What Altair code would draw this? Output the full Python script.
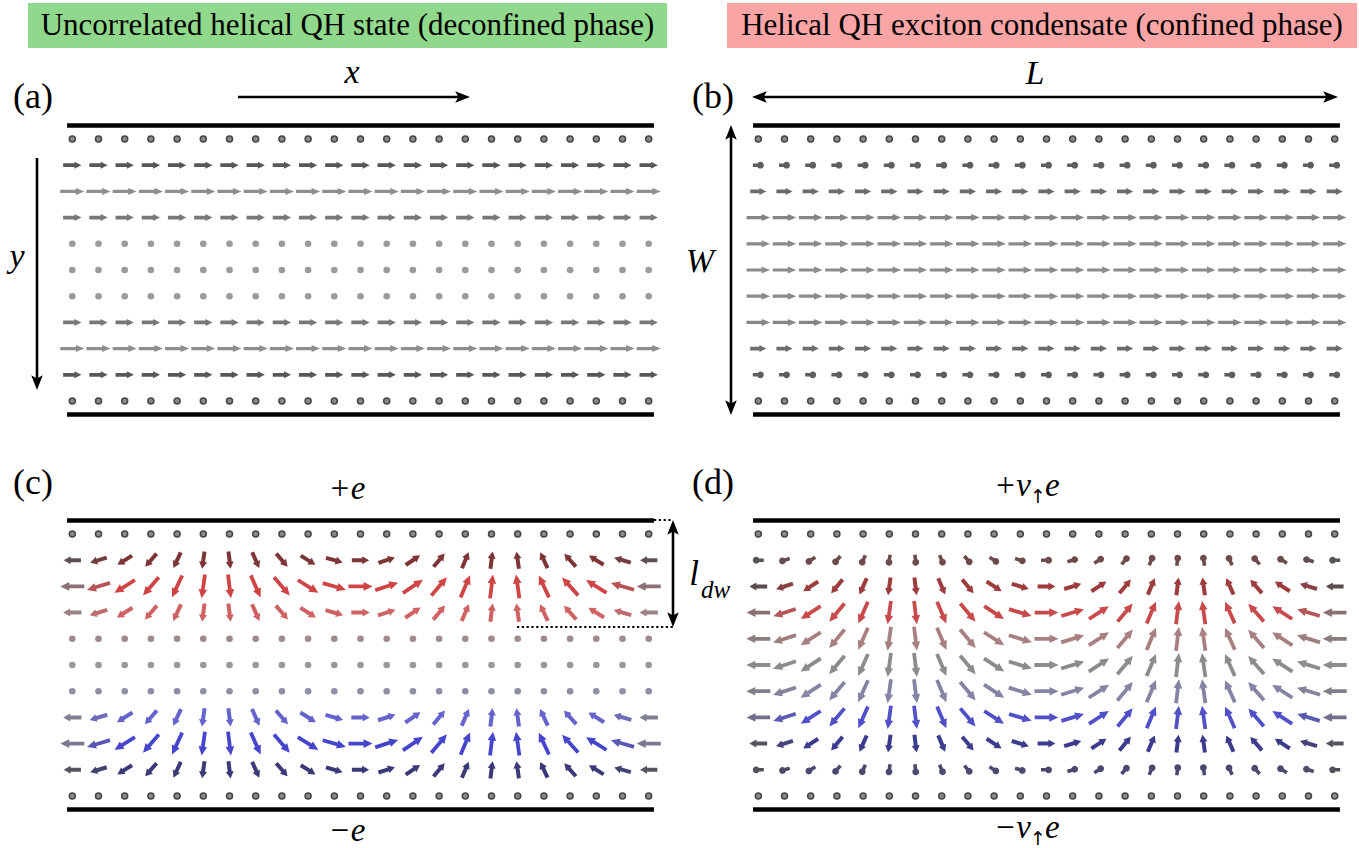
import altair as alt
import pandas as pd

# ------------------------------------------------------------------ data
N_COL = 23
N_ROW = 11

# (a) uncorrelated helical QH state: all in-plane spins along +x
A_ANGLE = [0] * N_COL
A_KIND = ["ring", "arrow", "arrow", "arrow", "dot", "dot", "dot", "arrow", "arrow", "arrow", "ring"]
A_LEN = [0, 0.70, 0.92, 0.70, 0, 0, 0, 0.70, 0.92, 0.70, 0]
A_COLOR = ["#8a8a8a", "#585858", "#8e8e8e", "#787878", "#9b9b9b", "#9b9b9b", "#9b9b9b",
           "#787878", "#8e8e8e", "#585858", "#8a8a8a"]

# (b) helical QH exciton condensate
B_ANGLE = [0] * N_COL
B_KIND = ["ring", "ball", "arrow", "arrow", "arrow", "arrow", "arrow", "arrow", "arrow", "ball", "ring"]
B_LEN = [0, 0.42, 0.62, 0.90, 0.90, 0.90, 0.90, 0.90, 0.62, 0.42, 0]
B_COLOR = ["#8a8a8a", "#5e5e5e", "#6c6c6c", "#858585", "#8a8a8a", "#8c8c8c", "#8a8a8a",
           "#858585", "#6c6c6c", "#5e5e5e", "#8a8a8a"]

# (c) domain walls, deconfined: in-plane angle (deg, counter-clockwise from +x) per column
C_ANGLE = [180, 197, 212, 229, 245, 262, 277, 294, 311, 328, 344, 0,
           18, 34, 50, 67, 83, 98, 115, 132, 148, 164, 180]
C_EDGE = [1.0, 0.35, 0, 0, 0, 0, 0, 0, 0, 0, 0, 0, 0, 0, 0, 0, 0, 0, 0, 0, 0, 0.35, 1.0]
C_KIND = ["ring", "arrow", "arrow", "arrow", "dot", "dot", "dot", "arrow", "arrow", "arrow", "ring"]
C_LEN = [0, 0.66, 0.92, 0.70, 0, 0, 0, 0.70, 0.92, 0.66, 0]
C_COLOR = ["#8a8a8a", "#7d3535", "#cf4444", "#cf6262", "#a08a8a", "#999999", "#8e8ea6",
           "#6464cc", "#4646cc", "#3a3a78", "#8a8a8a"]
C_EDGECOLOR = ["#8a8a8a", "#5e5050", "#8c7272", "#9c8282", "#a08a8a", "#999999", "#8e8ea6",
               "#7e7e94", "#7a7a90", "#555560", "#8a8a8a"]

# (d) domain wall, confined
D_ANGLE = [180, 198, 213, 230, 246, 262, 277, 293, 310, 327, 343, 0,
           17, 33, 50, 67, 83, 98, 114, 131, 147, 163, 180]
D_EDGE = [1.0, 0.35, 0, 0, 0, 0, 0, 0, 0, 0, 0, 0, 0, 0, 0, 0, 0, 0, 0, 0, 0, 0.35, 1.0]
D_KIND = ["ring", "ball", "arrow", "arrow", "arrow", "arrow", "arrow", "arrow", "arrow", "ball", "ring"]
D_LEN = [0, 0.42, 0.68, 0.90, 0.92, 0.92, 0.92, 0.90, 0.68, 0.42, 0]
D_COLOR = ["#8a8a8a", "#6e4a4a", "#9c3c3c", "#c84a4a", "#a88080", "#8c8c8c", "#8484a4",
           "#5050c8", "#3c3c8c", "#4a4a70", "#8a8a8a"]
D_EDGECOLOR = ["#8a8a8a", "#555555", "#5c4c4c", "#8c7070", "#8c7c7c", "#8c8c8c", "#80808c",
               "#70708a", "#55555f", "#50505a", "#8a8a8a"]

TITLE_A = "Uncorrelated helical QH state (deconfined phase)"
TITLE_B = "Helical QH exciton condensate (confined phase)"

# ------------------------------------------------------------------ style / geometry
SP = 26.2          # px per lattice step
U = SP / 2         # custom symbol unit when size = SP**2
FONT = "Liberation Serif"

XL = [-72.3 / SP, (680 - 72.3) / SP]
XR = [-78.3 / SP, (679 - 78.3) / SP]
YT = [-139 / SP, (430 - 139) / SP]
YB = [-104 / SP, (418 - 104) / SP]


def mix(c1, c2, w):
    a = [int(c1[i:i + 2], 16) for i in (1, 3, 5)]
    b = [int(c2[i:i + 2], 16) for i in (1, 3, 5)]
    return "#" + "".join(f"{round(x * (1 - w) + y * w):02x}" for x, y in zip(a, b))


def arrow_path(L, head_len, head_hw, shaft_hw):
    t = L / 2 / U
    h = head_len / U
    hw = head_hw / U
    sw = shaft_hw / U
    b = -t + h
    return (f"M0,{-t:.3f}L{hw:.3f},{b:.3f}L{sw:.3f},{b:.3f}L{sw:.3f},{t:.3f}"
            f"L{-sw:.3f},{t:.3f}L{-sw:.3f},{b:.3f}L{-hw:.3f},{b:.3f}Z")


def ball_path(L, r, shaft_hw):
    t = L / 2 / U
    rr = r / U
    sw = shaft_hw / U
    cy = -t + rr
    return (f"M{-sw:.3f},{t:.3f}L{sw:.3f},{t:.3f}L{sw:.3f},{cy:.3f}L{-sw:.3f},{cy:.3f}Z"
            f"M{-rr:.3f},{cy:.3f}A{rr:.3f},{rr:.3f} 0 1,0 {rr:.3f},{cy:.3f}"
            f"A{rr:.3f},{rr:.3f} 0 1,0 {-rr:.3f},{cy:.3f}Z")


def build(kinds, lens, colors, edgecols, angles, edge, big):
    rec = []
    for r in range(N_ROW):
        for c in range(N_COL):
            k = kinds[r]
            w = edge[c] if edge is not None else 0
            col = mix(colors[r], edgecols[r] if edgecols else colors[r], w)
            if k in ("ring", "dot"):
                rec.append(dict(col=c, row=r, kind=k, color=col, shape="circle", angle=0))
                continue
            L = lens[r] * SP
            if k == "ball":
                path = ball_path(L, 3.4, 1.8)
            elif L < 20:
                path = arrow_path(L, 7.0, 4.0 if big else 3.5, 2.0 if big else 1.9)
            else:
                path = arrow_path(L, 9.0 if big else 8.5, 4.3 if big else 3.5, 1.9 if big else 1.6)
            rec.append(dict(col=c, row=r, kind=k, color=col, shape=path,
                            angle=(90 - angles[c]) % 360))
    return pd.DataFrame(rec)


HEAD = "M0,-1L0.72,0.85L0,0.45L-0.72,0.85Z"
HEAD_PX = 8.0
HEAD_OFF = HEAD_PX / SP


def panel(df, xdom, ydom, w, h, banner=None, texts=(), arrows=(), dotted=()):
    X = lambda f="col": alt.X(f"{f}:Q", scale=alt.Scale(domain=xdom, nice=False, zero=False), axis=None)
    Y = lambda f="row": alt.Y(f"{f}:Q", scale=alt.Scale(domain=ydom, nice=False, zero=False, reverse=True), axis=None)
    layers = []
    if banner is not None:
        bx1, bx2, by1, by2, fill = banner
        bdf = pd.DataFrame([dict(x=bx1, x2=bx2, y=by1, y2=by2)])
        layers.append(alt.Chart(bdf).mark_rect(fill=fill).encode(
            x=X("x"), x2="x2:Q", y=Y("y"), y2="y2:Q"))
    # boundary lines
    ldf = pd.DataFrame([dict(x=-0.2, x2=22.2, y=-0.52), dict(x=-0.2, x2=22.2, y=10.52)])
    layers.append(alt.Chart(ldf).mark_rule(color="black", strokeWidth=4.5).encode(
        x=X("x"), x2="x2:Q", y=Y("y")))
    # dots
    layers.append(alt.Chart(df[df.kind == "ring"]).mark_point(
        shape="circle", filled=True, size=36, stroke="#454545", strokeWidth=1.5, opacity=1).encode(
        x=X(), y=Y(), fill=alt.Fill("color:N", scale=None)))
    layers.append(alt.Chart(df[df.kind == "dot"]).mark_circle(size=44, opacity=1).encode(
        x=X(), y=Y(), color=alt.Color("color:N", scale=None)))
    # arrows
    layers.append(alt.Chart(df[df.kind.isin(["arrow", "ball"])]).mark_point(
        filled=True, size=SP * SP, strokeWidth=0, opacity=1).encode(
        x=X(), y=Y(), shape=alt.Shape("shape:N", scale=None),
        angle=alt.Angle("angle:Q", scale=None), fill=alt.Fill("color:N", scale=None)))
    # annotation arrows
    lines, heads = [], []
    for (x1, y1, x2, y2, both) in arrows:
        dx, dy = x2 - x1, y2 - y1
        n = (dx * dx + dy * dy) ** 0.5
        ux, uy = dx / n, dy / n
        ang = {(1, 0): 90, (-1, 0): 270, (0, 1): 180, (0, -1): 0}[(round(ux), round(uy))]
        sx1, sy1 = x1, y1
        if both:
            heads.append(dict(x=x1 + ux * HEAD_OFF, y=y1 + uy * HEAD_OFF, a=(ang + 180) % 360))
            sx1, sy1 = x1 + ux * HEAD_OFF, y1 + uy * HEAD_OFF
        heads.append(dict(x=x2 - ux * HEAD_OFF, y=y2 - uy * HEAD_OFF, a=ang))
        lines.append(dict(x=sx1, y=sy1, x2=x2 - ux * HEAD_OFF, y2=y2 - uy * HEAD_OFF))
    if lines:
        layers.append(alt.Chart(pd.DataFrame(lines)).mark_rule(color="black", strokeWidth=2.6).encode(
            x=X("x"), y=Y("y"), x2="x2:Q", y2="y2:Q"))
        layers.append(alt.Chart(pd.DataFrame(heads)).mark_point(
            shape=HEAD, filled=True, size=(2 * HEAD_PX) ** 2, color="black", opacity=1,
            strokeWidth=0).encode(
            x=X("x"), y=Y("y"), angle=alt.Angle("a:Q", scale=None)))
    if dotted:
        layers.append(alt.Chart(pd.DataFrame(list(dotted))).mark_rule(
            color="black", strokeWidth=2.2, strokeDash=[2.2, 2.6]).encode(
            x=X("x"), x2="x2:Q", y=Y("y"), y2="y2:Q"))
    for (tx, ty, t, size, style, align, font) in texts:
        tdf = pd.DataFrame([dict(x=tx, y=ty, t=t)])
        layers.append(alt.Chart(tdf).mark_text(
            font=font, fontSize=size, fontStyle=style, align=align, baseline="middle",
            color="black", fill="black").encode(x=X("x"), y=Y("y"), text="t:N"))
    return alt.layer(*layers).properties(width=w, height=h)


def cx(px, left=True):
    return (px - (72.3 if left else 758.3)) / SP


def ry(py, top=True):
    return (py - (139 if top else 534)) / SP


dfa = build(A_KIND, A_LEN, A_COLOR, None, A_ANGLE, None, False)
dfb = build(B_KIND, B_LEN, B_COLOR, None, B_ANGLE, None, False)
dfc = build(C_KIND, C_LEN, C_COLOR, C_EDGECOLOR, C_ANGLE, C_EDGE, True)
dfd = build(D_KIND, D_LEN, D_COLOR, D_EDGECOLOR, D_ANGLE, D_EDGE, True)

ARROW_FONT = "DejaVu Sans"

pa = panel(
    dfa, XL, YT, 680, 430,
    banner=(cx(28), cx(667), ry(3), ry(48), "#90d98c"),
    texts=[(cx(347.5), ry(26), TITLE_A, 31, "normal", "center", FONT),
           (cx(33), ry(97), "(a)", 36, "normal", "center", FONT),
           (cx(352), ry(73), "x", 34, "italic", "center", FONT),
           (cx(17), ry(257), "y", 34, "italic", "center", FONT)],
    arrows=[(cx(238), ry(97), cx(470), ry(97), False),
            (cx(37), ry(158), cx(37), ry(390), False)])

pb = panel(
    dfb, XR, YT, 679, 430,
    banner=(cx(727, False), cx(1357, False), ry(3), ry(48), "#faa5a5"),
    texts=[(cx(1042, False), ry(26), TITLE_B, 31, "normal", "center", FONT),
           (cx(713, False), ry(97), "(b)", 36, "normal", "center", FONT),
           (cx(1035, False), ry(74), "L", 34, "italic", "center", FONT),
           (cx(700, False), ry(262), "W", 34, "italic", "center", FONT)],
    arrows=[(cx(752, False), ry(97), cx(1338, False), ry(97), True),
            (cx(731, False), ry(125), cx(731, False), ry(415), True)])

pc = panel(
    dfc, XL, YB, 680, 418,
    texts=[(cx(33), ry(483, False), "(c)", 36, "normal", "center", FONT),
           (cx(347), ry(489, False), "+e", 33, "italic", "center", FONT),
           (cx(347), ry(831, False), "\u2212e", 33, "italic", "center", FONT)],
    arrows=[(cx(673), ry(520, False), cx(673), ry(627, False), True)],
    dotted=[dict(x=cx(654), x2=cx(673), y=ry(520, False), y2=ry(520, False)),
            dict(x=cx(517), x2=cx(673), y=ry(627, False), y2=ry(627, False))])

pd_ = panel(
    dfd, XR, YB, 679, 418,
    texts=[(cx(713, False), ry(483, False), "(d)", 36, "normal", "center", FONT),
           (cx(1031, False), ry(486, False), "+\u03bd", 33, "italic", "right", FONT),
           (cx(1038, False), ry(497, False), "\u2191", 19, "normal", "center", ARROW_FONT),
           (cx(1045, False), ry(486, False), "e", 33, "italic", "left", FONT),
           (cx(1031, False), ry(828, False), "\u2212\u03bd", 33, "italic", "right", FONT),
           (cx(1038, False), ry(839, False), "\u2191", 19, "normal", "center", ARROW_FONT),
           (cx(1045, False), ry(828, False), "e", 33, "italic", "left", FONT),
           (cx(694, False), ry(574, False), "l", 35, "italic", "center", FONT),
           (cx(701, False), ry(590, False), "dw", 25, "italic", "left", FONT)])

chart = alt.concat(
    pa, pb, pc, pd_, columns=2, spacing=0, bounds="flush"
).properties(padding=0).configure_view(stroke=None)

chart.save("out.html", embed_options={"renderer": "svg", "actions": False})
